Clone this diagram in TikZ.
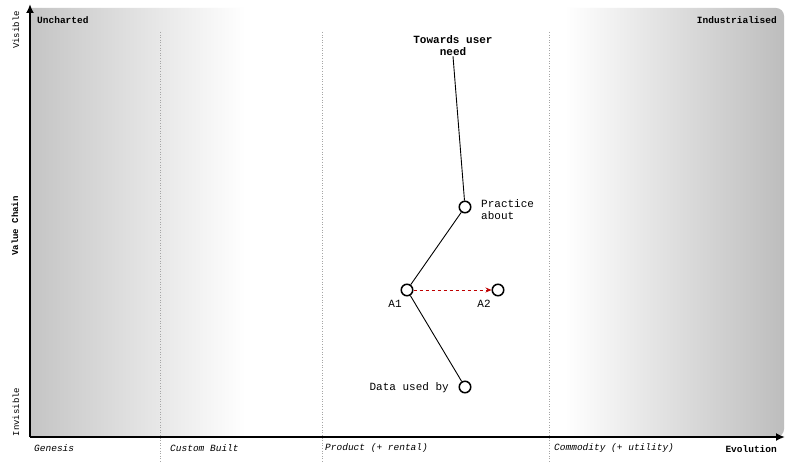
\documentclass[tikz,border=0pt]{standalone}
\usepackage{fontspec}
\setmainfont{Liberation Mono}
\usetikzlibrary{arrows.meta}
\tikzset{
  comp/.style={circle,draw=black,line width=1.5pt,fill=white,minimum size=11.5pt,inner sep=0pt},
  lbl/.style={font=\fontsize{11}{12}\selectfont,inner sep=0pt},
  axlbl/.style={font=\fontsize{9.5}{11}\selectfont\bfseries,inner sep=0pt},
  evlbl/.style={font=\fontsize{9.5}{11}\selectfont\itshape,inner sep=0pt,anchor=west},
  sidelbl/.style={font=\fontsize{9}{11}\selectfont,inner sep=0pt,rotate=90},
  link/.style={line width=0.9pt,black},
  stage/.style={gray!70,dotted,line width=0.6pt},
  axis/.style={line width=2.2pt,-{Latex[length=9pt,width=8pt]}}
}
\begin{document}
\begin{tikzpicture}[x=1pt,y=-1pt]
\useasboundingbox (0,0) rectangle (800,462);
\fill[white] (0,0) rectangle (800,462);
% background
\begin{scope}
\clip (30,437) -- (30,8) [rounded corners=8pt] -- (784,8) -- (784,437) [sharp corners] -- cycle;
\shade[left color=black!23,right color=white] (30,0) rectangle (245,462);
\shade[left color=white,right color=black!26] (565,0) rectangle (785,462);
\end{scope}
% stage lines
\coordinate (s1t) at (160,32); \coordinate (s1b) at (160,462);
\coordinate (s2t) at (322,32); \coordinate (s2b) at (322,462);
\coordinate (s3t) at (549,32); \coordinate (s3b) at (549,462);
\draw[stage] (s1t) -- (s1b);
\draw[stage] (s2t) -- (s2b);
\draw[stage] (s3t) -- (s3b);
% axes
\coordinate (o) at (30,437);
\coordinate (ytop) at (30,4);
\coordinate (xend) at (785,437);
\draw[axis] (o) -- (ytop);
\draw[axis] (o) -- (xend);
% axis labels
\node[axlbl,anchor=west] (unch) at (37,20) {Uncharted};
\node[axlbl,anchor=east] (ind) at (777,20) {Industrialised};
\node[axlbl,anchor=east] (evo) at (777,449) {Evolution};
\node[sidelbl] (vis) at (16,30) {Visible};
\node[sidelbl,font=\fontsize{9}{11}\selectfont\bfseries] (vc) at (15,226) {Value Chain};
\node[sidelbl] (invis) at (16,412) {Invisible};
\node[evlbl] (gen) at (34,448) {Genesis};
\node[evlbl] (cb) at (170,448) {Custom Built};
\node[evlbl] (prod) at (325,448) {Product (+ rental)};
\node[evlbl] (comm) at (554,448) {Commodity (+ utility)};
% components
\node[lbl,font=\fontsize{11}{12}\selectfont\bfseries,align=center] (user) at (453,46) {Towards user\\need};
\node[comp] (prac) at (465,207) {};
\node[comp] (a1) at (407,290) {};
\node[comp] (a2) at (498,290) {};
\node[comp] (data) at (465,387) {};
\node[lbl,anchor=west,align=left] (pracl) at (481,210) {Practice\\about};
\node[lbl] (a1l) at (395,304) {A1};
\node[lbl] (a2l) at (484,304) {A2};
\node[lbl,anchor=east] (datal) at (449,388) {Data used by};
% links
\draw[link] (user.south) -- (prac);
\draw[link] (prac) -- (a1);
\draw[link] (a1) -- (data);
\draw[red!75!black,dashed,line width=0.8pt,-{Stealth[length=6pt,width=5pt]}] (a1) -- (a2);
\end{tikzpicture}
\end{document}
